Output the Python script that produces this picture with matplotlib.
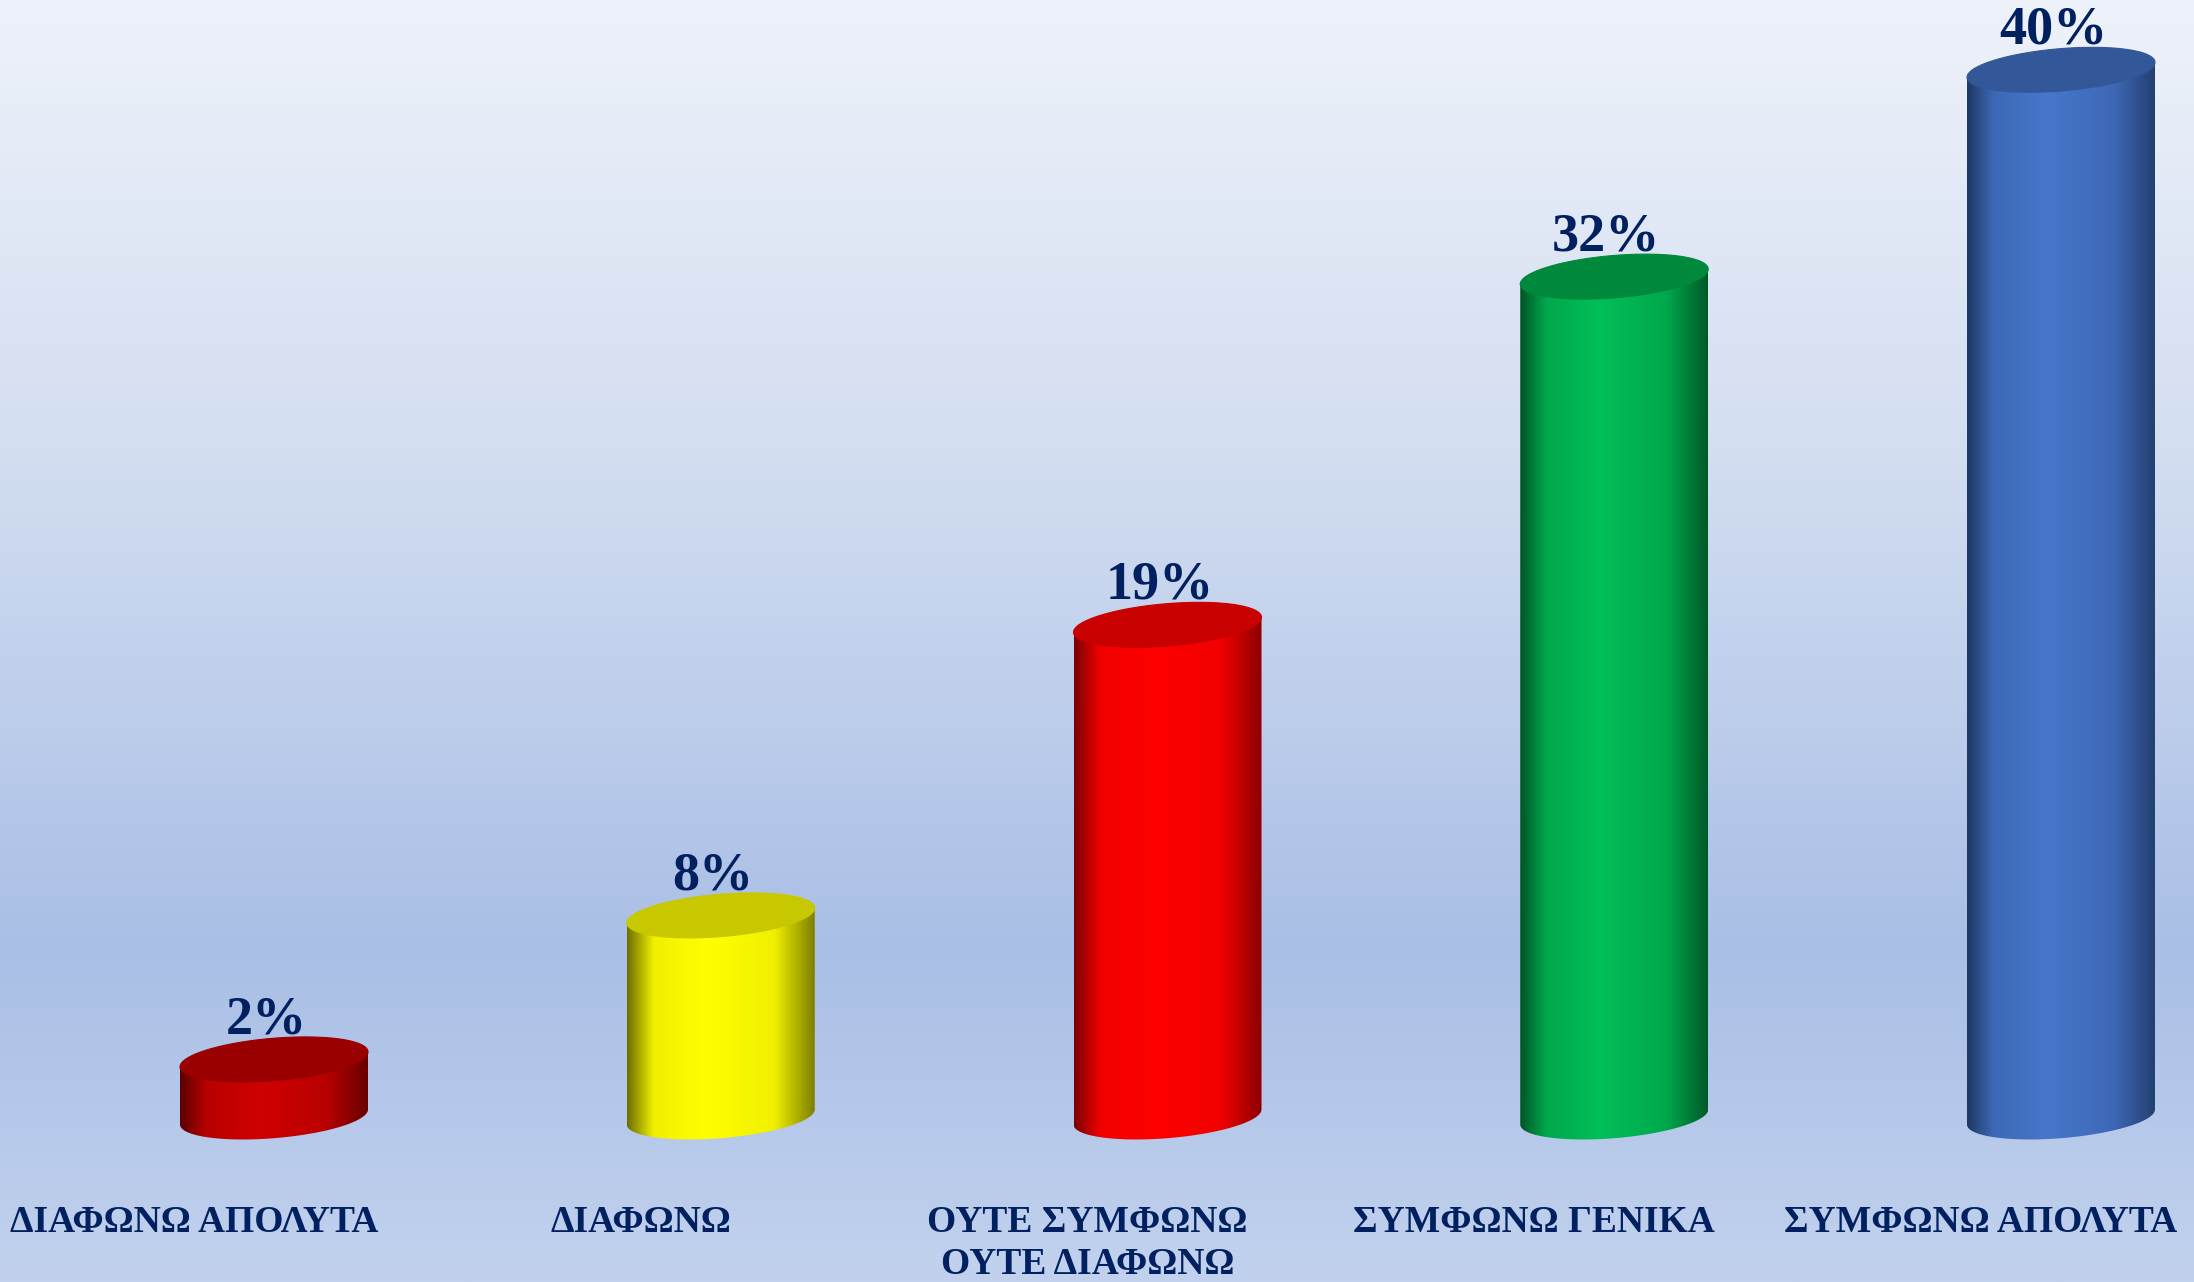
import numpy as np
import matplotlib
matplotlib.use('Agg')
import matplotlib.pyplot as plt
from matplotlib.patches import Polygon
from matplotlib.colors import LinearSegmentedColormap, to_rgb

# ---------------- data ----------------
categories = ['ΔΙΑΦΩΝΩ ΑΠΟΛΥΤΑ', 'ΔΙΑΦΩΝΩ', 'ΟΥΤΕ ΣΥΜΦΩΝΩ\nΟΥΤΕ ΔΙΑΦΩΝΩ',
              'ΣΥΜΦΩΝΩ ΓΕΝΙΚΑ', 'ΣΥΜΦΩΝΩ ΑΠΟΛΥΤΑ']
values = [2.2, 7.7, 18.8, 32.1, 40.0]
value_labels = ['2%', '8%', '19%', '32%', '40%']

# (left edge, main, highlight, right edge, top face)
bar_styles = [
    ('#5a0000', '#b80000', '#d00000', '#6a0000', '#9a0000'),
    ('#6e6e00', '#f0f000', '#ffff00', '#7c7c00', '#c8c800'),
    ('#7a0000', '#f20000', '#ff0000', '#8c0000', '#c80000'),
    ('#005526', '#00a84c', '#00bf59', '#005a28', '#00883d'),
    ('#1e3865', '#3d68b6', '#4777cb', '#233f70', '#33589a'),
]

TEXT_COLOR = '#002060'
SERIF = ['Liberation Serif', 'DejaVu Serif']

# ---------------- layout ----------------
W, H = 2194, 1282
SLOT = 446.75          # px between category centres
PXU = 26.18            # px per percent
X0 = 274               # px of first centre
Y0 = 165               # px (from bottom) of zero line

fig = plt.figure(figsize=(W / 100, H / 100), dpi=100)
ax = fig.add_axes([0, 0, 1, 1])
ax.set_autoscale_on(False)
xlim = (-X0 / SLOT, (W - X0) / SLOT)
ylim = (-Y0 / PXU, (H - Y0) / PXU)
ax.set_xlim(*xlim)
ax.set_ylim(*ylim)
ax.axis('off')

# background gradient (top -> bottom)
stops = [(0.0, '#eef2fa'), (0.35, '#d3def1'), (0.74, '#aabfe6'), (1.0, '#c2d2ee')]
n = 512
pos = np.linspace(0, 1, n)
cols = np.array([to_rgb(c) for _, c in stops])
sp = np.array([s for s, _ in stops])
grad = np.stack([np.interp(pos, sp, cols[:, k]) for k in range(3)], axis=-1)
ax.imshow(grad[:, None, :], extent=(*xlim, *ylim), aspect='auto', origin='upper',
          zorder=0, interpolation='bilinear')

# cylinder geometry (in data units)
A = 94 / SLOT          # half width
B = 21.2 / PXU         # ellipse half height
K = 7.5 / PXU          # tilt (right side higher)


def cylinder(x, v, style):
    el, mn, hi, er, top = style
    cmap = LinearSegmentedColormap.from_list(
        'c', [(0, el), (0.14, mn), (0.42, hi), (0.78, mn), (1.0, er)])
    t = np.linspace(np.pi, 2 * np.pi, 120)
    arc = np.column_stack([x + A * np.cos(t), B * np.sin(t) + K * np.cos(t)])
    pts = np.vstack([[x - A, v - K], arc, [x + A, v + K]])
    body = Polygon(pts, closed=True, facecolor='none', edgecolor='none', zorder=2)
    ax.add_patch(body)
    im = ax.imshow(np.linspace(0, 1, 256)[None, :], cmap=cmap,
                   extent=(x - A, x + A, -B - K - 0.1, v + K + 0.1),
                   aspect='auto', zorder=2, interpolation='bilinear')
    im.set_clip_path(body)
    tt = np.linspace(0, 2 * np.pi, 240)
    tp = np.column_stack([x + A * np.cos(tt), v + B * np.sin(tt) + K * np.cos(tt)])
    ax.add_patch(Polygon(tp, closed=True, facecolor=top, edgecolor=top,
                         linewidth=0.8, zorder=3))


for i, (v, st) in enumerate(zip(values, bar_styles)):
    cylinder(i, v, st)
    ax.annotate(value_labels[i], xy=(i, v), xytext=(-8, 26), textcoords='offset pixels',
                ha='center', va='baseline', fontsize=39, fontweight='bold',
                color=TEXT_COLOR, family=SERIF, zorder=5)
    ax.annotate(categories[i], xy=(i, 0), xytext=(-80, -88), textcoords='offset pixels',
                ha='center', va='top', fontsize=27, fontweight='bold',
                color=TEXT_COLOR, family=SERIF, linespacing=1.25, zorder=5)

fig.savefig('out.png', dpi=100)
